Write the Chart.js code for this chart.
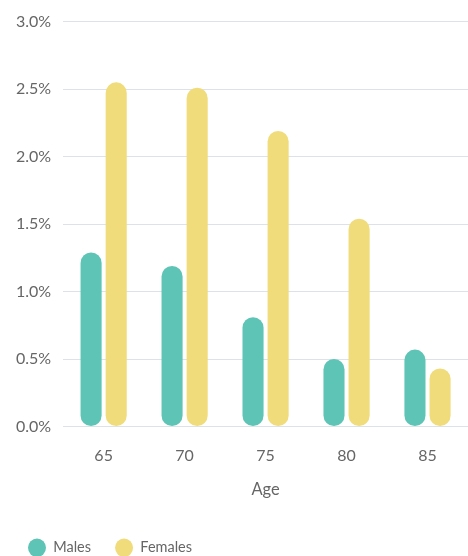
<!DOCTYPE html>
<html>
<head>
<meta charset="utf-8">
<script src="https://cdn.jsdelivr.net/npm/chart.js@4"></script>
<style>
  html, body { margin: 0; padding: 0; background: #fff; }
  #wrap { width: 468px; height: 556px; position: relative; }
</style>
</head>
<body>
<div id="wrap"><canvas id="chart"></canvas></div>
<script>
const ages = ['65', '70', '75', '80', '85'];
const males = [1.29, 1.19, 0.81, 0.50, 0.57];
const females = [2.55, 2.51, 2.19, 1.54, 0.43];

const teal = '#5EC4B6';
const yellow = '#F0DC7A';

document.addEventListener('DOMContentLoaded', () => {
    const ctx = document.getElementById('chart');

    new Chart(ctx, {
        type: 'bar',
        data: {
            labels: ages,
            datasets: [{
                label: 'Males',
                data: males,
                backgroundColor: teal,
                borderRadius: 11,
                borderSkipped: false
            }, {
                label: 'Females',
                data: females,
                backgroundColor: yellow,
                borderRadius: 11,
                borderSkipped: false
            }]
        },
        options: {
            responsive: true,
            maintainAspectRatio: false,
            animation: false,
            categoryPercentage: 0.62,
            barPercentage: 0.84,
            // negative bottom pushes the legend row down near the edge
            layout: { padding: { left: 4, right: 0, top: 5, bottom: -9 } },
            plugins: {
                tooltip: { enabled: false },
                legend: {
                    position: 'bottom',
                    align: 'start',
                    labels: {
                        usePointStyle: true,
                        pointStyle: 'circle',
                        boxHeight: 13,
                        boxWidth: 18,
                        pointStyleWidth: 18,
                        padding: 24,
                        color: '#666',
                        font: { family: 'Lato', size: 14.5 }
                    }
                }
            },
            scales: {
                x: {
                    grid: { display: false },
                    border: { color: '#dbe3e8' },
                    ticks: { color: '#666', font: { family: 'Lato', size: 16 }, padding: 12 },
                    title: {
                        display: true,
                        text: 'Age',
                        color: '#666',
                        font: { family: 'Lato', size: 16.5 },
                        padding: { top: 2, bottom: 17 }
                    }
                },
                y: {
                    min: 0,
                    max: 3,
                    ticks: {
                        stepSize: 0.5,
                        color: '#666',
                        font: { family: 'Lato', size: 16 },
                        padding: 12,
                        callback: v => v.toFixed(1) + '%'
                    },
                    grid: { color: '#dbe3e8', drawTicks: false },
                    border: { display: false }
                }
            }
        }
    });
});
</script>
</body>
</html>
